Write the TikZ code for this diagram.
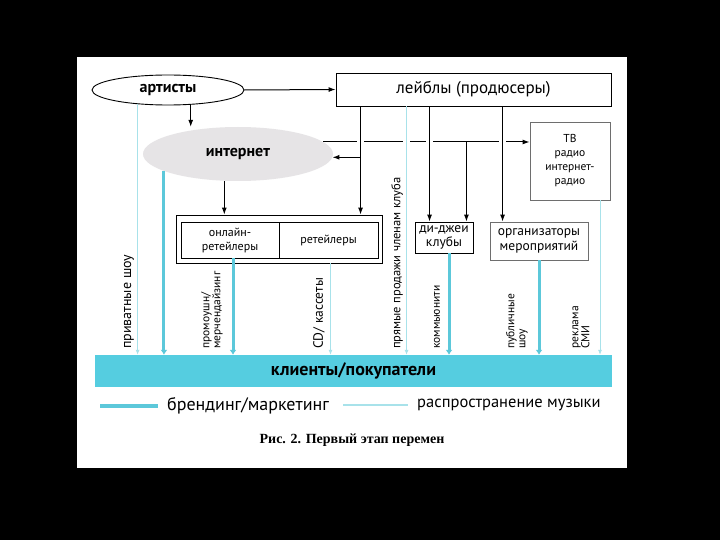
\documentclass[tikz,border=0pt]{standalone}
\usepackage{fontspec}
\setmainfont{PT Sans}
\newfontfamily\capfont{Liberation Serif}
\usetikzlibrary{shapes.geometric,arrows.meta,calc}
\definecolor{barcyan}{HTML}{55CDE0}
\definecolor{thickcyan}{HTML}{5CC8DA}
\definecolor{thincyan}{HTML}{A8E2EA}
\definecolor{netgray}{HTML}{E6E4E6}
\definecolor{boxgray}{HTML}{6E6E6E}
\begin{document}
\begin{tikzpicture}[x=1pt,y=-1pt,
  conn/.style={draw=black, line width=1pt, -{Latex[length=7pt,width=5pt]}},
  brand/.style={draw=thickcyan, line width=3pt, -{Latex[length=5pt,width=7pt]}},
  distr/.style={draw=thincyan, line width=0.8pt, -{Latex[length=5pt,width=4pt]}},
  boxb/.style={draw=black, line width=0.9pt, inner sep=0pt, align=center},
  boxg/.style={draw=boxgray, line width=0.9pt, inner sep=0pt, align=center},
  btxt/.style={font=\bfseries\fontsize{16}{18}\selectfont},
  stxt/.style={font=\fontsize{12}{14}\selectfont},
  vlab/.style={rotate=90, anchor=west, inner sep=1pt, align=left, font=\fontsize{11.5}{11}\selectfont},
  legtxt/.style={anchor=west, inner sep=0pt}
]
\useasboundingbox (0,0) rectangle (720,540);
\fill[black] (0,0) rectangle (720,540);
\fill[white] (77,57) rectangle (627,468);

% nodes
\node[ellipse, draw, line width=0.9pt, minimum width=152, minimum height=30, inner sep=0pt, btxt] (art) at (168,90) {артисты};
\node[boxb, minimum width=275, minimum height=33, font=\fontsize{17}{20}\selectfont] (lab) at (473.5,89.5) {лейблы (продюсеры)};
\node[ellipse, fill=netgray, minimum width=190, minimum height=54, inner sep=0pt, btxt] (net) at (238,154) {интернет};
\node[boxg, minimum width=80, minimum height=78, font=\fontsize{11.5}{14}\selectfont] (tv) at (570,161) {ТВ\\радио\\интернет-\\радио};
\node[boxb, minimum width=206, minimum height=48] (ret) at (279,239) {};
\node[boxb, minimum width=98, minimum height=36, stxt] (onl) at (230,240) {онлайн-\\ретейлеры};
\node[boxb, minimum width=99, minimum height=36, stxt] (rtl) at (328.5,240) {ретейлеры};
\node[boxb, minimum width=58, minimum height=31, font=\fontsize{13.5}{14}\selectfont] (dj) at (444,237.5) {ди-джеи\\клубы};
\node[boxg, minimum width=98, minimum height=38, font=\fontsize{13.5}{15}\selectfont] (org) at (539,241) {организаторы\\мероприятий};
\node[fill=barcyan, minimum width=517, minimum height=32, inner sep=0pt, font=\bfseries\fontsize{18}{20}\selectfont] (cli) at (353.5,371) {клиенты/покупатели};

% rotated labels
\node[vlab, font=\fontsize{14}{14}\selectfont] (v1) at (129,350) {приватные шоу};
\node[vlab] (v2) at (212,350) {промоушн/\\мерчендайзинг};
\node[vlab, font=\fontsize{13.5}{13}\selectfont] (v3) at (319,350) {CD/ кассеты};
\node[vlab, font=\fontsize{12.5}{12}\selectfont] (v4) at (397,350) {прямые продажи членам клуба};
\node[vlab] (v5) at (437,350) {коммьюнити};
\node[vlab] (v6) at (517,350) {публичные\\шоу};
\node[vlab] (v7) at (581,350) {реклама\\СМИ};

% coordinates on labels box
\coordinate (c1) at ($(lab.south west)+(25,0)$);
\coordinate (c2) at ($(lab.south west)+(94,0)$);
\coordinate (c3) at ($(lab.south west)+(167,0)$);
\coordinate (c5) at ($(lab.south west)+(71,0)$);
\coordinate (c4) at ($(dj.north east)+(-7,0)$);

% internet -> TV with hops
\draw[conn] (net.8) -- (net.8 -| tv.west);
\foreach \c in {c1,c2,c3,c5}
  \fill[white] ($(\c |- net.8)+(-3.5,-2.5)$) rectangle ++(7,5);

% black connectors
\draw[conn] (art.east) -- (lab.west);
\draw[conn] (art.-33) -- (art.-33 |- net.north);
\draw[conn] (c1) -- (c1 |- ret.north);
\draw[conn] (c2) -- (c2 |- dj.north);
\draw[conn] (c3) -- (c3 |- org.north);
\draw[conn] (c4 |- net.8) -- (c4);
\draw[conn] (c1 |- net.-2.4) -- (net.-2.4);
\draw[conn] (net.-117.7) -- (net.-117.7 |- ret.north);

% cyan connectors to clients
\coordinate (d3) at ($(onl.south)+(3,0)$);
\coordinate (d4) at ($(rtl.south |- ret.south)+(2,0)$);
\coordinate (d6) at ($(dj.south)+(5,0)$);
\coordinate (d8) at ($(tv.south)+(30,0)$);
\draw[distr] (art.-155) -- (art.-155 |- cli.north);
\draw[brand] (net.-167) -- (net.-167 |- cli.north);
\draw[brand] (d3) -- (d3 |- cli.north);
\draw[distr] (d4) -- (d4 |- cli.north);
\draw[distr] (c5) -- (c5 |- cli.north);
\draw[brand] (d6) -- (d6 |- cli.north);
\draw[brand] (org.south) -- (org.south |- cli.north);
\draw[distr] (d8) -- (d8 |- cli.north);

% legend
\coordinate (lg1) at (100,406);
\coordinate (lg2) at (158,406);
\coordinate (lg3) at (343,405);
\coordinate (lg4) at (408,405);
\draw[thickcyan, line width=3.5pt] (lg1) -- (lg2);
\node[legtxt, font=\fontsize{18}{20}\selectfont] (lt1) at (167,406) {брендинг/маркетинг};
\draw[thincyan, line width=1.2pt] (lg3) -- (lg4);
\node[legtxt, font=\fontsize{16.5}{19}\selectfont] (lt2) at (417,405) {распространение музыки};

% caption
\node[font=\capfont\bfseries\fontsize{14}{16}\selectfont] (cap) at (352,440) {Рис. 2. Первый этап перемен};
\end{tikzpicture}
\end{document}
